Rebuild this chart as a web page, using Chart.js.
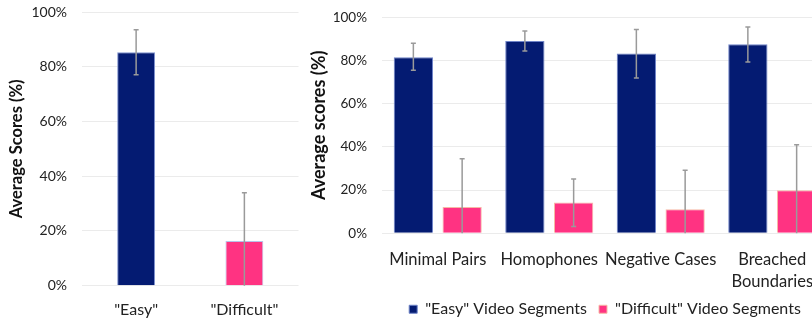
<!DOCTYPE html>
<html>
<head>
<meta charset="utf-8">
<script src="https://cdn.jsdelivr.net/npm/chart.js@4.4.1/dist/chart.umd.min.js"></script>
<style>
  body { margin: 0; width: 812px; height: 320px; overflow: hidden; position: relative; background: #fff; }
  canvas { position: absolute; top: 0; }
  #izq { left: 0; }
  #der { left: 290px; }
</style>
</head>
<body>
<canvas id="izq" width="300" height="320"></canvas>
<canvas id="der" width="538" height="330"></canvas>
<script>
// Datos del grafico izquierdo
const nivelesIzq = ['"Easy"', '"Difficult"'];
const mediasIzq = [85.3, 16.3];
const errAltoIzq = [93.5, 34.0];
const errBajoIzq = [77.1, 0];

// Datos del grafico derecho
const categorias = ['Minimal Pairs', 'Homophones', 'Negative Cases', ['Breached', 'Boundaries']];
const facil = [81.5, 89.0, 83.2, 87.5];
const facilAlto = [88.0, 93.7, 94.4, 95.5];
const facilBajo = [75.5, 84.4, 71.9, 79.3];
const dificil = [12.2, 14.3, 11.1, 19.9];
const dificilAlto = [34.5, 25.1, 29.2, 41.0];
const dificilBajo = [0, 3.1, 0, 0];
const ticksY = [0, 20, 40, 60, 80, 100];

const AZUL = '#041b72';
const ROSA = '#ff3382';
const fuente = 'Lato, "Open Sans", sans-serif';

// Plugin para las barras de error
const barrasError = {
    id: 'barrasError',
    afterDatasetsDraw(chart) {
        let ctx = chart.ctx;
        let y = chart.scales.y;
        chart.data.datasets.forEach(function(ds, i) {
            let meta = chart.getDatasetMeta(i);
            meta.data.forEach(function(bar, j) {
                let arriba = y.getPixelForValue(ds.alto[j]);
                let abajo = y.getPixelForValue(ds.bajo[j]);
                ctx.save();
                ctx.strokeStyle = '#9a9a9a';
                ctx.lineWidth = 1.5;
                ctx.beginPath();
                ctx.moveTo(bar.x, arriba);
                ctx.lineTo(bar.x, abajo);
                ctx.moveTo(bar.x - 2.5, arriba);
                ctx.lineTo(bar.x + 2.5, arriba);
                if (ds.bajo[j] > 0) {
                    ctx.moveTo(bar.x - 2.5, abajo);
                    ctx.lineTo(bar.x + 2.5, abajo);
                }
                ctx.stroke();
                ctx.restore();
            });
        });
    }
};

function ejeY(titulo, tam, ancho, padTitulo, tamTick) {
    return {
        min: 0,
        max: 100,
        afterBuildTicks: function(s) { s.ticks = ticksY.map(v => ({ value: v })); },
        afterFit: function(s) {
            s.width = ancho;
            // que el padding de las etiquetas no empuje el area
            s.paddingTop = 0;
            s.paddingBottom = 0;
        },
        grid: { color: '#ebebeb', lineWidth: 1, drawTicks: false },
        border: { display: false },
        ticks: {
            padding: 15,
            color: '#222',
            font: { family: fuente, size: tamTick },
            callback: v => v + '%'
        },
        title: {
            display: true,
            text: titulo,
            color: '#111',
            padding: { top: padTitulo, bottom: 0 },
            font: { family: fuente, size: tam, weight: 'bold' }
        }
    };
}

// Grafico izquierdo
new Chart($('izq'), {
    type: 'bar',
    data: {
        labels: nivelesIzq,
        datasets: [{
            data: mediasIzq,
            alto: errAltoIzq,
            bajo: errBajoIzq,
            backgroundColor: [AZUL, ROSA],
            borderColor: ['#7f93cf', '#b8c3ea'],
            borderWidth: 1,
            barPercentage: 0.35,
            categoryPercentage: 1
        }]
    },
    options: {
        responsive: false,
        animation: false,
        layout: { padding: { top: 12, right: 1.5, left: 0, bottom: 0 } },
        plugins: { legend: { display: false }, tooltip: { enabled: false } },
        scales: {
            x: {
                grid: { display: false, drawTicks: false },
                border: { display: false },
                afterFit: function(s) { s.height = 34.3; },
                ticks: { padding: 15, color: '#222', font: { family: fuente, size: 16 } }
            },
            y: ejeY('Average Scores (%)', 16.5, 82, 6.5, 14)
        }
    },
    plugins: [barrasError]
});

// Grafico derecho
new Chart($('der'), {
    type: 'bar',
    data: {
        labels: categorias,
        datasets: [{
            label: '"Easy" Video Segments',
            data: facil,
            alto: facilAlto,
            bajo: facilBajo,
            backgroundColor: AZUL,
            borderColor: '#6f84c8',
            borderWidth: 1,
            barPercentage: 0.805,
            categoryPercentage: 0.875
        }, {
            label: '"Difficult" Video Segments',
            data: dificil,
            alto: dificilAlto,
            bajo: dificilBajo,
            backgroundColor: ROSA,
            borderColor: '#f6b8a6',
            borderWidth: 1,
            barPercentage: 0.805,
            categoryPercentage: 0.875
        }]
    },
    options: {
        responsive: false,
        animation: false,
        layout: { padding: { top: 17.3, right: 0, left: 0, bottom: 2.75 } },
        plugins: {
            tooltip: { enabled: false },
            legend: {
                position: 'bottom',
                fullSize: false,
                labels: {
                    boxWidth: 8,
                    boxHeight: 8,
                    padding: 12,
                    color: '#222',
                    font: { family: fuente, size: 16 }
                }
            }
        },
        scales: {
            x: {
                grid: { display: false, drawTicks: false },
                border: { display: false },
                afterFit: function(s) { s.height = 55.95; },
                ticks: {
                    padding: 14.8,
                    maxRotation: 0,
                    autoSkip: false,
                    color: '#222',
                    font: { family: fuente, size: 16.5, lineHeight: 1.35 }
                }
            },
            y: ejeY('Average scores (%)', 18, 92, 18, 13.5)
        }
    },
    plugins: [barrasError]
});

function $(id) { return document.getElementById(id); }
</script>
</body>
</html>
